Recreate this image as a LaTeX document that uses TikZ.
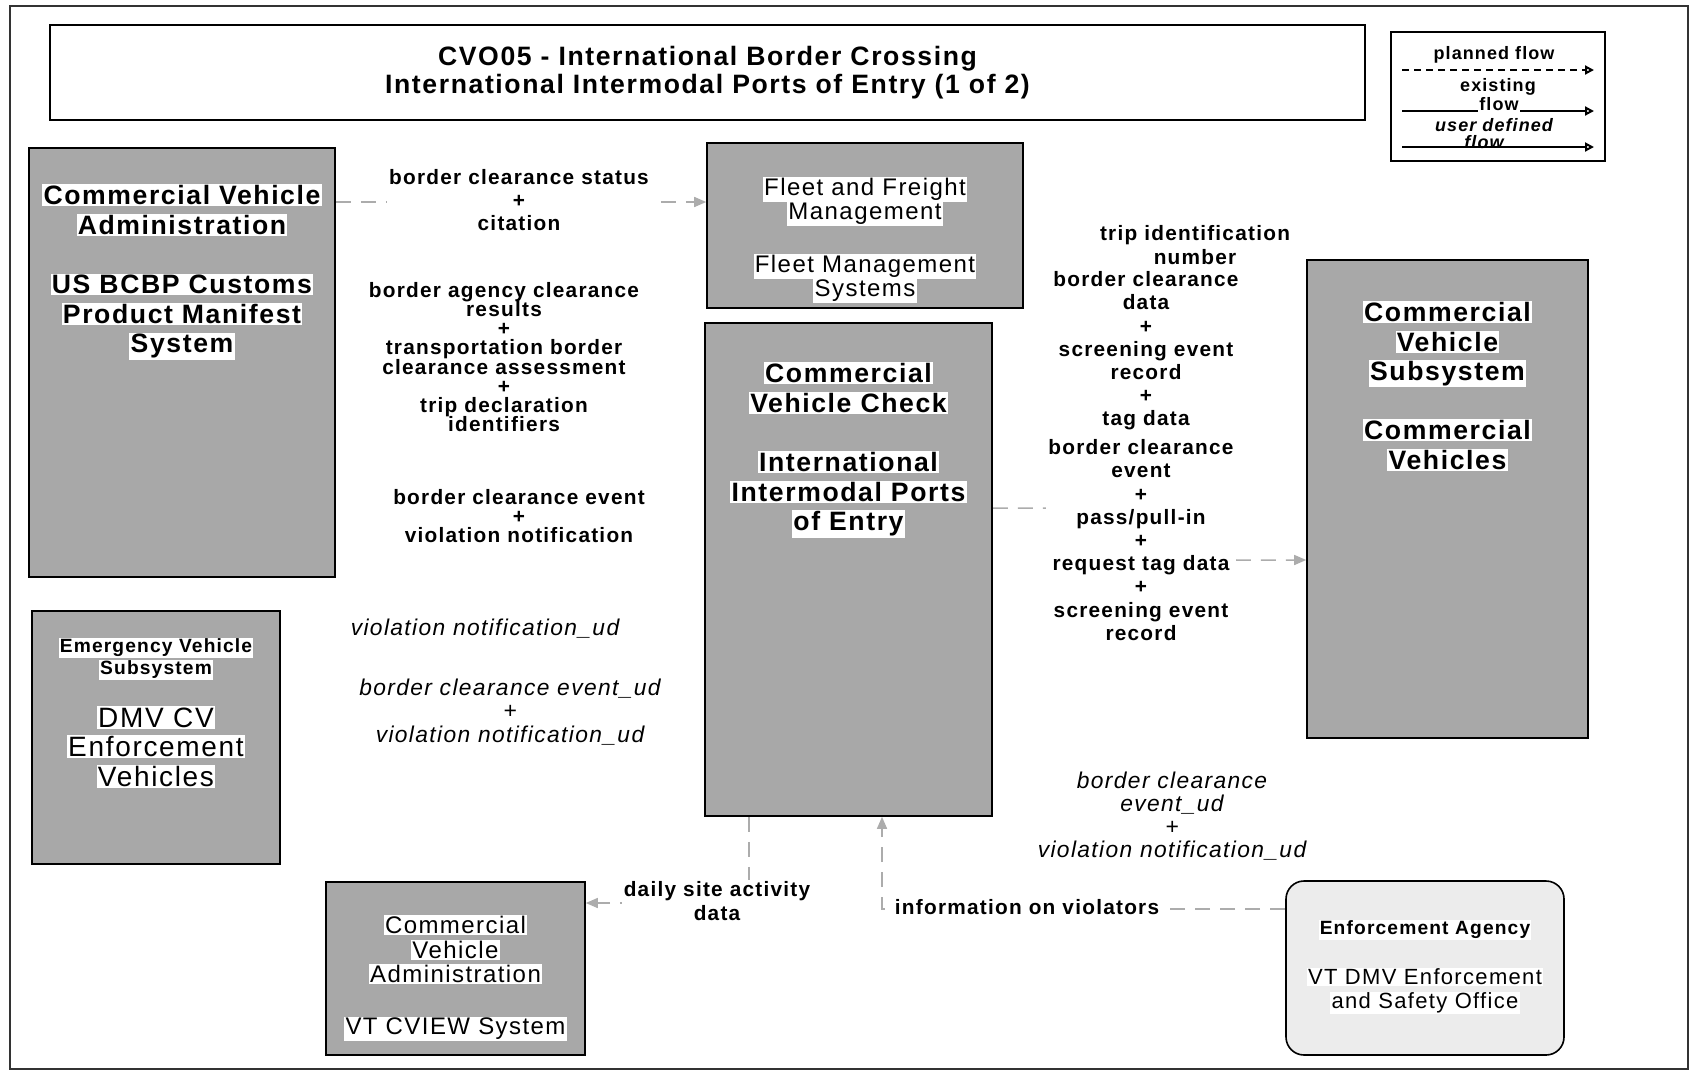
\documentclass[tikz,border=0pt]{standalone}
\usepackage{fontspec}
\setmainfont{Liberation Sans}[LetterSpace=6]
\usetikzlibrary{arrows.meta,backgrounds}

\definecolor{boxgray}{RGB}{168,168,168}
\definecolor{flowgray}{RGB}{172,172,172}
\definecolor{agencygray}{RGB}{236,236,236}
\setlength{\fboxsep}{0.6pt}
\newcommand{\wbg}[1]{\colorbox{white}{#1}}
\newcommand{\tightsp}{\lineskiplimit=-6pt\lineskip=0pt}

\tikzset{
  sysbox/.style={draw=black, line width=0.8pt, fill=boxgray, inner sep=0pt},
  boxtitle/.style={align=center, inner sep=0pt, font=\fontsize{13.3}{14.8}\selectfont\bfseries},
  boxbig/.style={align=center, inner sep=0pt, font=\fontsize{14}{14.8}\selectfont},
  boxtext/.style={align=center, inner sep=0pt, font=\fontsize{12}{12.2}\selectfont},
  boxsmall/.style={align=center, inner sep=0pt, font=\fontsize{9.6}{11}\selectfont\bfseries},
  flowlbl/.style={align=center, fill=white, inner sep=1pt, font=\fontsize{10.4}{11.6}\selectfont\bfseries\tightsp},
  tightlbl/.style={font=\fontsize{10.4}{9.6}\selectfont\bfseries\tightsp},
  udlbl/.style={align=center, fill=white, inner sep=1pt, font=\fontsize{11.4}{11.6}\selectfont\itshape\tightsp},
  flow/.style={draw=flowgray, line width=0.75pt, dash pattern=on 7.5pt off 5pt,
    -{Triangle[length=6pt,width=5pt,fill=flowgray]}},
  legtxt/.style={align=center, inner sep=0pt, font=\fontsize{9}{9}\selectfont\bfseries},
  legarrow/.style={draw=black, line width=1pt, -{Triangle[open,length=4.5pt,width=4.5pt]}}
}

\begin{document}
\begin{tikzpicture}[x=0.5pt,y=-0.5pt]
\useasboundingbox (0,0) rectangle (1690,1071);
\draw[line width=1pt, draw=black!80] (10,6) rectangle (1688,1069);

% title and legend
\node[draw=black, line width=1pt, minimum width=657.5pt, minimum height=47.5pt, align=center,
  font=\fontsize{13.3}{14}\selectfont\bfseries] (titlebox) at (707.5,72.5)
  {CVO05 - International Border Crossing\\International Intermodal Ports of Entry (1 of 2)};

\node[draw=black, line width=0.8pt, minimum width=107pt, minimum height=64.5pt] (legend) at (1498,96.5) {};
\coordinate (lgL) at (1402,0);
\coordinate (lgR) at (1594,0);
\node[legtxt] (lgPlanned) at (1494,55) {planned flow};
\draw[legarrow, dash pattern=on 3.5pt off 2.5pt] (lgL |- 0,70) -- (lgR |- 0,70);
\node[legtxt] (lgExisting) at (1498,87) {existing};
\draw[legarrow] (lgL |- 0,111) -- (lgR |- 0,111);
\node[legtxt, fill=white, inner sep=0.6pt] (lgExFlow) at (1499,104) {flow};
\node[legtxt, font=\fontsize{9}{9}\selectfont\bfseries\itshape] (lgUser) at (1494,125) {user defined};
\node[legtxt, font=\fontsize{9}{9}\selectfont\bfseries\itshape] (lgUdFlow) at (1484,142) {flow};
\draw[legarrow] (lgL |- 0,147) -- (lgR |- 0,147);

% systems
\node[sysbox, minimum width=153pt, minimum height=214.5pt] (cva) at (182,362.5) {};
\node[boxtitle] (cvaT) at (182,272) {\wbg{Commercial Vehicle}\\\wbg{Administration}\\[14.8pt]\wbg{US BCBP Customs}\\\wbg{Product Manifest}\\\wbg{System}};

\node[sysbox, minimum width=158pt, minimum height=82.5pt] (fleet) at (865,225.5) {};
\node[boxtext] (fleetT) at (865,240) {\wbg{Fleet and Freight}\\\wbg{Management}\\[13pt]\wbg{Fleet Management}\\\wbg{Systems}};

\node[sysbox, minimum width=143.5pt, minimum height=246.5pt] (cvc) at (848.5,569.5) {};
\node[boxtitle] (cvcT) at (848.5,450) {\wbg{Commercial}\\\wbg{Vehicle Check}\\[14.8pt]\wbg{International}\\\wbg{Intermodal Ports}\\\wbg{of Entry}};

\node[sysbox, minimum width=140.5pt, minimum height=239pt] (cvs) at (1447.5,499) {};
\node[boxtitle] (cvsT) at (1447.5,386) {\wbg{Commercial}\\\wbg{Vehicle}\\\wbg{Subsystem}\\[14.8pt]\wbg{Commercial}\\\wbg{Vehicles}};

\node[sysbox, minimum width=124pt, minimum height=126.5pt] (emv) at (156,737.5) {};
\node[boxsmall] (emvT) at (156,659) {\wbg{Emergency Vehicle}\\\wbg{Subsystem}};
\node[boxbig] (emvN) at (156,747) {\wbg{DMV CV}\\\wbg{Enforcement}\\\wbg{Vehicles}};

\node[sysbox, minimum width=129.5pt, minimum height=86.5pt] (cvavt) at (455.5,968.5) {};
\node[boxtext] (cvavtT) at (455.5,978) {\wbg{Commercial}\\\wbg{Vehicle}\\\wbg{Administration}\\[13.8pt]\wbg{VT CVIEW System}};

\node[draw=black, line width=0.8pt, fill=agencygray, rounded corners=9pt, minimum width=139pt, minimum height=87pt] (enf) at (1425,968) {};
\node[boxsmall] (enfT) at (1425,930) {\wbg{Enforcement Agency}};
\node[boxtext, font=\fontsize{11}{12}\selectfont] (enfN) at (1425,991) {\wbg{VT DMV Enforcement}\\\wbg{and Safety Office}};

% flow labels
\node[flowlbl] (lblStatus) at (519,200) {border clearance status\\+\\citation};
\node[flowlbl, tightlbl] (lblAgency) at (504,357) {border agency clearance\\results\\+\\transportation border\\clearance assessment\\+\\trip declaration\\identifiers};
\node[flowlbl, tightlbl] (lblEvent) at (519,516) {border clearance event\\+\\violation notification};
\node[udlbl] (lblUd1) at (485,629) {violation notification\_ud};
\node[udlbl] (lblUd2) at (510,712) {border clearance event\_ud\\+\\violation notification\_ud};
\node[flowlbl] (lblTrip) at (1195,245) {trip identification\\number};
\node[flowlbl] (lblData) at (1146,351) {border clearance\\data\\+\\screening event\\record\\+\\tag data};
\node[flowlbl] (lblPass) at (1141,540) {border clearance\\event\\+\\pass/pull-in\\+\\request tag data\\+\\screening event\\record};
\node[udlbl] (lblUd3) at (1172,816) {border clearance\\event\_ud\\+\\violation notification\_ud};
\node[flowlbl] (lblDaily) at (717,901) {daily site activity\\data};
\node[flowlbl] (lblViol) at (1027,907) {information on violators};

% flows
\begin{scope}[on background layer]
\draw[flow] (cva.east |- 0,202) -- (fleet.west |- 0,202);
\draw[flow] (cvc.east |- 0,508) -- (lblPass.west |- 0,508) -- (lblPass.east |- 0,560) -- (cvs.west |- 0,560);
\draw[flow] (cvc.south -| 749,0) |- (cvavt.east |- 0,903);
\draw[flow] (enf.west |- 0,909) -| (cvc.south -| 882,0);
\end{scope}
\end{tikzpicture}
\end{document}
